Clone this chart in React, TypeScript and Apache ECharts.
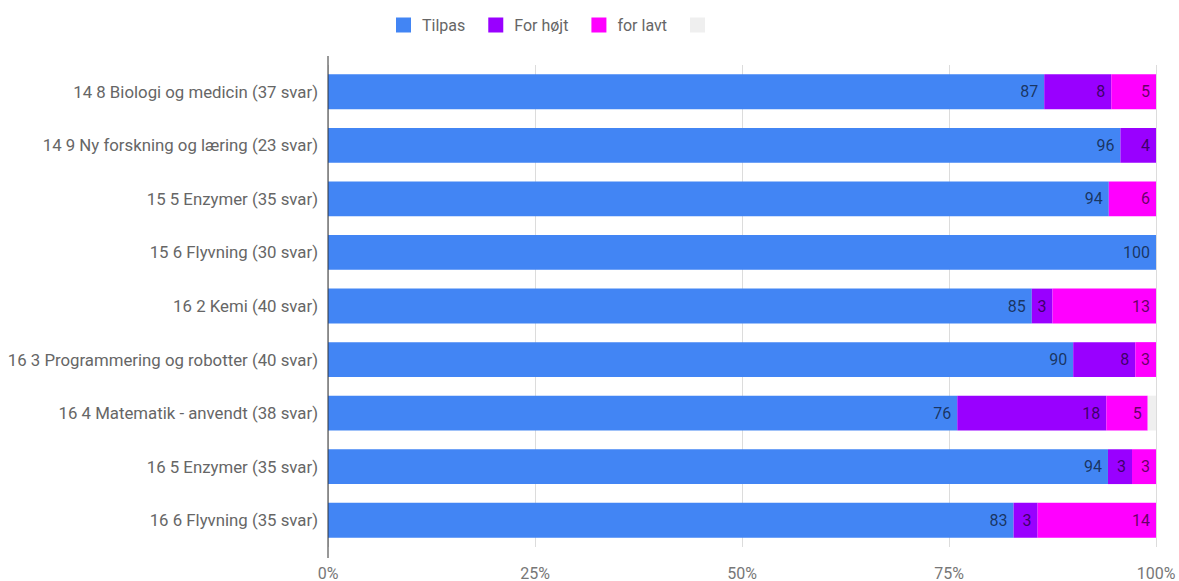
import React, { useEffect, useRef } from "react";
import * as echarts from "echarts";

const categories = [
  "14 8 Biologi og medicin (37 svar)",
  "14 9 Ny forskning og læring (23 svar)",
  "15 5 Enzymer (35 svar)",
  "15 6 Flyvning (30 svar)",
  "16 2 Kemi (40 svar)",
  "16 3 Programmering og robotter (40 svar)",
  "16 4 Matematik - anvendt (38 svar)",
  "16 5 Enzymer (35 svar)",
  "16 6 Flyvning (35 svar)",
];

const tilpas = [86.5, 95.7, 94.3, 100, 85, 90, 76, 94.2, 82.8];
const forHojt = [8.1, 4.3, 0, 0, 2.5, 7.5, 18, 2.9, 2.9];
const forLavt = [5.4, 0, 5.7, 0, 12.5, 2.5, 5, 2.9, 14.3];
const blank = [0, 0, 0, 0, 0, 0, 1, 0, 0];

const xTicks = [0, 25, 50, 75, 100];

const seriesNames = ["Tilpas", "For højt", "for lavt", " "];
const seriesColors = ["#4285f4", "#9900ff", "#ff00ff", "#efefef"];

export default function App() {
  const ref = useRef<HTMLDivElement>(null);

  useEffect(() => {
    if (!ref.current) return;
    const chart = echarts.init(ref.current, undefined, { renderer: "svg" });
    const font = "Roboto, 'Noto Sans', sans-serif";
    const datasets = [tilpas, forHojt, forLavt, blank];
    const series = datasets.map((d, i) => ({
      name: seriesNames[i],
      type: "bar",
      stack: "total",
      barWidth: "65%",
      data: d,
      itemStyle: { color: seriesColors[i] },
      label: {
        show: i < 3,
        position: "insideRight",
        distance: 6,
        color: "rgba(0,0,0,0.62)",
        fontSize: 16,
        fontFamily: font,
        formatter: (p: any) => (p.value > 0 ? String(Math.round(p.value)) : ""),
      },
    }));

    chart.setOption({
      animation: false,
      textStyle: { fontFamily: font },
      legend: {
        left: 396,
        top: 17,
        padding: 0,
        itemWidth: 15,
        itemHeight: 15,
        itemGap: 23,
        icon: "rect",
        textStyle: { color: "#666", fontSize: 16, fontFamily: font, padding: [0, 0, 0, 6] },
        data: seriesNames,
      },
      grid: { left: 328, right: 23, top: 65, bottom: 31, containLabel: false },
      xAxis: {
        type: "value",
        min: xTicks[0],
        max: xTicks[xTicks.length - 1],
        interval: xTicks[1] - xTicks[0],
        axisLabel: {
          formatter: "{value}%",
          color: "#777",
          fontSize: 16,
          fontFamily: font,
          margin: 18,
        },
        axisLine: { show: false },
        axisTick: { show: false },
        splitLine: { show: true, lineStyle: { color: "#dcdcdc", width: 1 } },
      },
      yAxis: {
        type: "category",
        inverse: true,
        data: categories,
        axisLabel: { color: "#666", fontSize: 16.8, fontFamily: font, margin: 10 },
        axisLine: { show: false },
        axisTick: { show: false },
        splitLine: { show: false },
      },
      graphic: [
        {
          type: "line",
          shape: { x1: 328, y1: 56, x2: 328, y2: 558 },
          style: { stroke: "#333", lineWidth: 1 },
          z: 100,
        },
      ],
      series,
    });

    return () => chart.dispose();
  }, []);

  return (
    <div
      ref={ref}
      style={{ position: "absolute", left: 0, top: 0, width: 1179, height: 581 }}
    />
  );
}
